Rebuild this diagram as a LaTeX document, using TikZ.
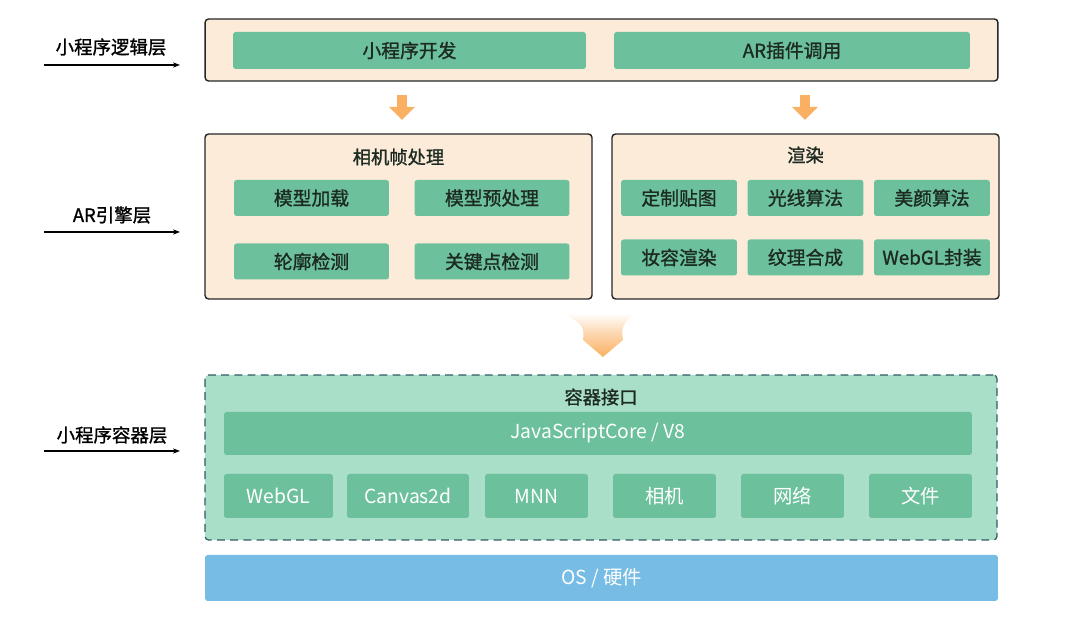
\documentclass[tikz,border=0pt]{standalone}
\usepackage{fontspec}
\setmainfont{Noto Sans CJK SC}
\newfontfamily\medfont{Noto Sans CJK SC}[FakeBold=1.2]
\usetikzlibrary{arrows.meta}

\definecolor{cream}{HTML}{FBEBD8}
\definecolor{itemgreen}{HTML}{6CC19C}
\definecolor{boxgreen}{HTML}{A9DEC8}
\definecolor{dashblue}{HTML}{2E5A66}
\definecolor{osblue}{HTML}{76BCE4}
\definecolor{flow}{HTML}{F9B062}
\definecolor{darktext}{HTML}{1C2A22}

\tikzset{
  layer/.style={rectangle, draw=black!85, fill=cream, line width=0.8pt, rounded corners=2pt},
  item/.style={rectangle, fill=itemgreen, rounded corners=1.5pt, text=darktext, font=\fontsize{10.7}{12}\medfont},
  cell/.style={rectangle, fill=itemgreen, rounded corners=1.5pt, text=white, font=\fontsize{11}{12}\selectfont},
  title/.style={text=darktext, font=\fontsize{10.4}{12}\medfont},
  side/.style={text=black, font=\fontsize{10.5}{12}\medfont},
  sidearrow/.style={-{Stealth[length=4pt, width=3pt]}, line width=0.6pt},
  flowarrow/.style={-{Triangle[length=0.26cm, width=0.5cm]}, line width=0.2cm, draw=flow}
}

\begin{document}
\begin{tikzpicture}[x=0.02cm, y=-0.02cm]
  \useasboundingbox (0, 0) rectangle (1080, 617);
  % Layers
  \node (logic) [layer, minimum width=15.86cm, minimum height=1.24cm] at (601.5, 50) {};
  \node (camera) [layer, minimum width=7.74cm, minimum height=3.3cm] at (398.5, 216.5) {};
  \node (render) [layer, minimum width=7.74cm, minimum height=3.3cm] at (805.5, 216.5) {};
  \node (container) [rectangle, draw=dashblue, fill=boxgreen, dash pattern=on 4.5pt off 3pt, line width=0.7pt, rounded corners=2pt, minimum width=15.84cm, minimum height=3.3cm] at (601, 457.5) {};
  \node (os) [rectangle, fill=osblue, rounded corners=1.5pt, text=white, font=\fontsize{11}{12}\selectfont, minimum width=15.86cm, minimum height=0.92cm] at (601.5, 578) {OS / 硬件};
  % Logic layer
  \node (dev) [item, minimum width=7.06cm, minimum height=0.74cm] at (409.5, 50.5) {小程序开发};
  \node (plugin) [item, minimum width=7.12cm, minimum height=0.74cm] at (792, 50.5) {AR插件调用};
  % Engine layer
  \node (camera-title) [title] at (398.5, 157) {相机帧处理};
  \node (load) [item, minimum width=3.1cm, minimum height=0.72cm] at (311.5, 198) {模型加载};
  \node (preproc) [item, minimum width=3.1cm, minimum height=0.72cm] at (492, 198) {模型预处理};
  \node (contour) [item, minimum width=3.1cm, minimum height=0.72cm] at (311.5, 261.5) {轮廓检测};
  \node (keypoint) [item, minimum width=3.1cm, minimum height=0.72cm] at (492, 261.5) {关键点检测};
  \node (render-title) [title] at (805.5, 155) {渲染};
  \node (sticker) [item, minimum width=2.32cm, minimum height=0.72cm] at (679, 198) {定制贴图};
  \node (light) [item, minimum width=2.32cm, minimum height=0.72cm] at (805.5, 198) {光线算法};
  \node (beauty) [item, minimum width=2.32cm, minimum height=0.72cm] at (932, 198) {美颜算法};
  \node (makeup) [item, minimum width=2.32cm, minimum height=0.72cm] at (679, 257.5) {妆容渲染};
  \node (texture) [item, minimum width=2.32cm, minimum height=0.72cm] at (805.5, 257.5) {纹理合成};
  \node (webgl-wrap) [item, minimum width=2.32cm, minimum height=0.72cm] at (932, 257.5) {WebGL封装};
  % Container layer
  \node (api-title) [title] at (601, 397) {容器接口};
  \node (jsc) [cell, minimum width=14.96cm, minimum height=0.86cm] at (598, 433.5) {JavaScriptCore / V8};
  \node (webgl) [cell, minimum width=2.18cm, minimum height=0.88cm] at (278.5, 496) {WebGL};
  \node (canvas) [cell, minimum width=2.44cm, minimum height=0.88cm] at (408, 496) {Canvas2d};
  \node (mnn) [cell, minimum width=2.06cm, minimum height=0.88cm] at (536.5, 496) {MNN};
  \node (cam) [cell, minimum width=2.06cm, minimum height=0.88cm] at (664.5, 496) {相机};
  \node (net) [cell, minimum width=2.06cm, minimum height=0.88cm] at (792.5, 496) {网络};
  \node (file) [cell, minimum width=2.06cm, minimum height=0.88cm] at (920.5, 496) {文件};
  % Side labels
  \node (logic-label) [side] at (111, 47) {小程序逻辑层};
  \node (engine-label) [side] at (112, 215) {AR引擎层};
  \node (container-label) [side] at (112, 435) {小程序容器层};
  \coordinate (logic-in) at (44, 65);
  \coordinate (engine-in) at (44, 232);
  \coordinate (container-in) at (44, 451);
  \coordinate (logic-to) at (180, 65);
  \coordinate (engine-to) at (180, 232);
  \coordinate (container-to) at (180, 451);
  % Arrow
  \draw[sidearrow] (logic-in) -- (logic-to);
  \draw[sidearrow] (engine-in) -- (engine-to);
  \draw[sidearrow] (container-in) -- (container-to);
  \draw[flowarrow] (402, 95) -- (402, 120);
  \draw[flowarrow] (805, 95) -- (805, 120);
  % Big arrow
  \shade[top color=white, bottom color=flow, middle color=flow!55]
    (560, 313) -- (637, 313) .. controls (620, 322) and (622, 332) .. (623, 340)
    -- (603, 357) -- (583, 340) .. controls (584, 332) and (586, 322) .. (560, 313) -- cycle;
\end{tikzpicture}
\end{document}
